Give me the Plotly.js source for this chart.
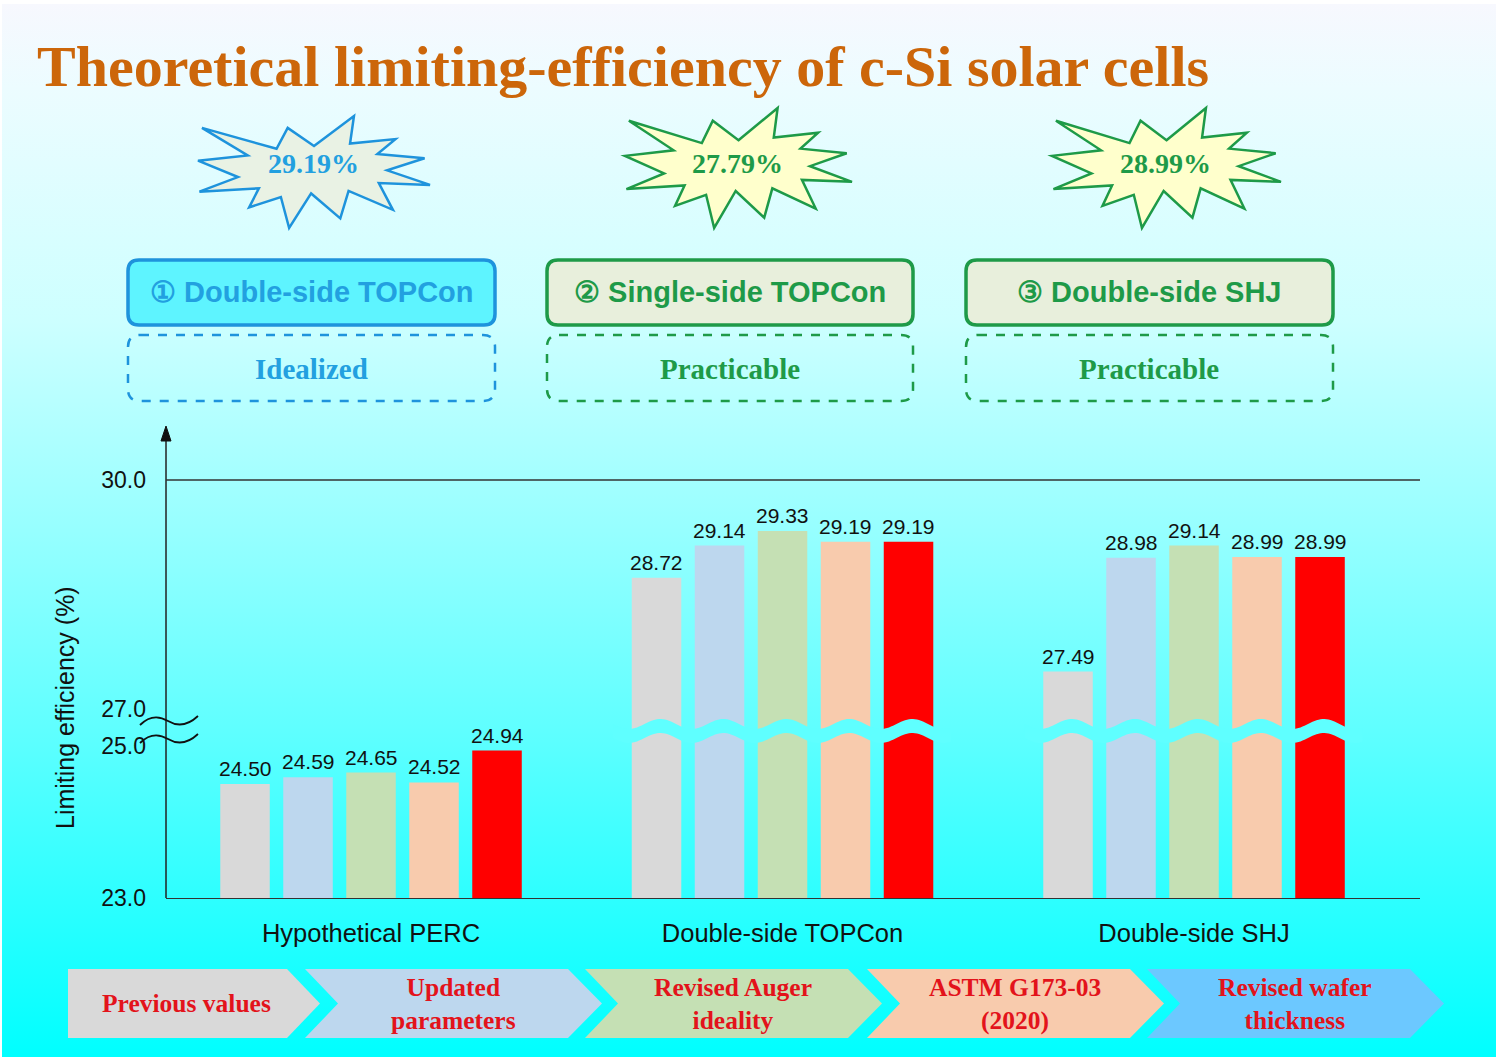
<!DOCTYPE html>
<html><head><meta charset="utf-8">
<script src="https://cdn.plot.ly/plotly-3.0.1.min.js"></script>
<style>
html,body{margin:0;padding:0;background:#fff;}
#bg{position:absolute;left:2px;top:4px;width:1494px;height:1053px;}
#chart{position:absolute;left:0;top:0;width:1500px;height:1061px;}
</style></head>
<body><div id="bg"></div><div id="chart"></div>
<script>
// ---------------- data ----------------
const categories = ['Hypothetical PERC', 'Double-side TOPCon', 'Double-side SHJ'];
const previousValues    = [24.50, 28.72, 27.49];
const updatedParameters = [24.59, 29.14, 28.98];
const revisedAuger      = [24.65, 29.33, 29.14];
const astmG173          = [24.52, 29.19, 28.99];
const revisedWafer      = [24.94, 29.19, 28.99];
const lowerTicks = [23, 25];
const upperTicks = [27, 30];
const stepLabels = ['Previous values', 'Updated<br>parameters', 'Revised Auger<br>ideality', 'ASTM G173-03<br>(2020)', 'Revised wafer<br>thickness'];
const headlineValues = ['29.19%', '27.79%', '28.99%'];
const cellLabels = ['① Double-side TOPCon', '② Single-side TOPCon', '③ Double-side SHJ'];
const cellKinds = ['Idealized', 'Practicable', 'Practicable'];
const titleText = 'Theoretical limiting-efficiency of c-Si solar cells';
const yTitle = 'Limiting efficiency (%)';

// ---------------- styling ----------------
const series = [previousValues, updatedParameters, revisedAuger, astmG173, revisedWafer];
const barColors = ['#D9D9D9', '#BDD7EE', '#C5E0B4', '#F8CBAD', '#FF0000'];
const chevronColors = ['#D9D9D9', '#BDD7EE', '#C5E0B4', '#F8CBAD', '#6CC8FF'];
const W = 1500, H = 1061;
const X = px => +(px / W).toFixed(5);
const Y = py => +(1 - py / H).toFixed(5);
const SANS = 'Liberation Sans, Arial, sans-serif';
const SERIF = 'Liberation Serif, Times New Roman, serif';

// background gradient
const stops = [[0, [247,248,254]], [0.08, [236,252,255]], [0.3, [205,255,255]], [0.5, [150,255,255]], [0.7, [92,255,255]], [0.85, [45,255,255]], [1, [0,255,255]]];
const rgb = c => `rgb(${c.map(v => Math.round(v)).join(',')})`;
document.getElementById('bg').style.background =
  'linear-gradient(to bottom,' + stops.map(s => rgb(s[1]) + ' ' + (s[0]*100) + '%').join(',') + ')';
function bgAt(py) {
  const f = (py - 4) / 1053;
  for (let i = 1; i < stops.length; i++) {
    if (f <= stops[i][0]) {
      const a = stops[i-1], b = stops[i], t = (f - a[0]) / (b[0] - a[0]);
      return rgb(a[1].map((v, k) => v + (b[1][k] - v) * t));
    }
  }
  return rgb(stops[stops.length-1][1]);
}

// axis geometry
const xr = [-0.4982, 2.5492];
const axL = 166, axR = 1420;
const lowScale = 76, upScale = 76.3, y30px = 480;
const lowTopPx = 733, upBotPx = 731, upTopPx = 432;
const bargap = 0.2345;
const pitch = (1 - bargap) / 5;

// ---------------- traces ----------------
const traces = [];
series.forEach((vals, i) => {
  ['y', 'y2'].forEach(ya => {
    traces.push({
      type: 'bar', x: [0, 1, 2], y: vals, yaxis: ya, xaxis: 'x',
      marker: {color: barColors[i], line: {width: 0}},
      hoverinfo: 'skip', showlegend: false
    });
  });
});

// ---------------- helpers ----------------
function poly(pts) { return 'M' + pts.map(p => X(p[0]) + ',' + Y(p[1])).join(' L') + ' Z'; }
function rrect(x0, y0, x1, y1, r) {
  return `M${X(x0+r)},${Y(y0)} L${X(x1-r)},${Y(y0)} Q${X(x1)},${Y(y0)} ${X(x1)},${Y(y0+r)} ` +
         `L${X(x1)},${Y(y1-r)} Q${X(x1)},${Y(y1)} ${X(x1-r)},${Y(y1)} L${X(x0+r)},${Y(y1)} ` +
         `Q${X(x0)},${Y(y1)} ${X(x0)},${Y(y1-r)} L${X(x0)},${Y(y0+r)} Q${X(x0)},${Y(y0)} ${X(x0+r)},${Y(y0)} Z`;
}
const seal = [[10800,5800],[14522,0],[14155,5325],[18380,4457],[16702,7315],[21097,8137],[17607,10475],[21600,13290],[16837,12942],[18145,18095],[14020,14457],[13247,19737],[10532,14935],[8485,21600],[7715,15627],[4762,17617],[5667,13937],[135,14587],[3722,11775],[0,8615],[4627,7617],[370,2295],[7312,6320],[8352,2295]];
function star(x0, y0, x1, y1) {
  return poly(seal.map(p => [x0 + p[0]/21600*(x1-x0), y0 + p[1]/21600*(y1-y0)]));
}
function note(px, py, text, font, extra) {
  return Object.assign({xref:'paper', yref:'paper', x: X(px), y: Y(py), xanchor:'center', yanchor:'middle',
    showarrow:false, text: text, font: font}, extra || {});
}

const shapes = [];
const annotations = [];

// title
annotations.push(note(35, 66, '<b>' + titleText + '</b>', {family: SERIF, size: 58, color:'#CC660A'}, {xanchor:'left'}));

// stars + boxes
const starBoxes = [[198,116,430,228],[625,108,852,228],[1052,108,1281,228]];
const boxX = [[128,495],[547,913],[966,1333]];
const strokeCols = ['#1E93DC', '#1E9A48', '#1E9A48'];
const textCols = ['#22A0E0', '#1E9A48', '#1E9A48'];
const starFills = ['#E9F2E4', '#FFFFCC', '#FFFFCC'];
const boxFills = ['#5EF4FF', '#E8EFDC', '#E8EFDC'];
for (let k = 0; k < 3; k++) {
  const sb = starBoxes[k];
  shapes.push({type:'path', xref:'paper', yref:'paper', path: star(...sb), fillcolor: starFills[k], line:{color: strokeCols[k], width: 2.5}});
  annotations.push(note((sb[0]+sb[2])/2 - 1, 164, '<b>' + headlineValues[k] + '</b>', {family: SERIF, size: 28, color: textCols[k]}));
  const [bx0, bx1] = boxX[k];
  shapes.push({type:'path', xref:'paper', yref:'paper', path: rrect(bx0, 260, bx1, 325, 11), fillcolor: boxFills[k], line:{color: strokeCols[k], width: 3.5}});
  annotations.push(note((bx0+bx1)/2, 292, '<b>' + cellLabels[k] + '</b>', {family: SANS, size: 29, color: textCols[k]}));
  shapes.push({type:'path', xref:'paper', yref:'paper', path: rrect(bx0, 335, bx1, 401, 12), fillcolor:'rgba(0,0,0,0)', line:{color: strokeCols[k], width: 2.5, dash:'dash'}});
  annotations.push(note((bx0+bx1)/2, 369, '<b>' + cellKinds[k] + '</b>', {family: SERIF, size: 29, color: textCols[k]}));
}

// y axis line + arrow
shapes.push({type:'line', xref:'paper', yref:'paper', x0: X(axL), x1: X(axL), y0: Y(898), y1: Y(438), line:{color:'#222', width:1.5}});
shapes.push({type:'path', xref:'paper', yref:'paper', path: poly([[axL,426],[axL-5,441],[axL+5,441]]), fillcolor:'#111', line:{color:'#111', width:1}});
// 30.0 line
shapes.push({type:'line', xref:'x domain', yref:'y2', x0: 0, x1: 1, y0: upperTicks[1], y1: upperTicks[1], line:{color:'#333', width:1.5}});
// axis break tildes
[721, 739].forEach(yc => {
  shapes.push({type:'path', xref:'paper', yref:'paper',
    path: `M${X(140)},${Y(yc+4)} Q${X(153)},${Y(yc-9)} ${X(168)},${Y(yc)} T${X(198)},${Y(yc-5)}`,
    line:{color:'#111', width:1.8}});
});

// wavy break band over tall bars
const pxPerUnit = (axR - axL) / (xr[1] - xr[0]);
const xPx = v => axL + (v - xr[0]) * pxPerUnit;
const bandCol = bgAt(731);
[1, 2].forEach(g => {
  const cx = xPx(g), half = 2.5 * pitch * pxPerUnit + 12;
  const xs = cx - half, xe = cx + half;
  const top = [], bot = [];
  for (let x = xs; x <= xe + 0.01; x += 2) {
    const yt = 724 + 5 * Math.sin(2 * Math.PI * (x - xs) / 63);
    top.push([x, yt]); bot.push([x, yt + 14]);
  }
  shapes.push({type:'path', xref:'paper', yref:'paper', path: poly(top.concat(bot.reverse())), fillcolor: bandCol, line:{width:0}, layer:'above'});
});

// value labels
series.forEach((vals, i) => {
  vals.forEach((v, g) => {
    annotations.push({xref:'x', yref: g === 0 ? 'y' : 'y2', x: g + (i - 2) * pitch, y: v,
      xanchor:'center', yanchor:'bottom', yshift: 2, showarrow:false,
      text: v.toFixed(2), font:{family: SANS, size: 21, color:'#111'}});
  });
});

// y title
annotations.push(note(65, 707, yTitle, {family: SANS, size: 25, color:'#111'}, {textangle: -90}));

// bottom chevrons
const chevStarts = [68, 305, 585, 867, 1147];
chevStarts.forEach((x0, k) => {
  const top = 969, bot = 1038, mid = 1003.5;
  const right = k === 0 ? 287 : x0 + 263;
  const pts = k === 0
    ? [[x0,top],[right,top],[right+33,mid],[right,bot],[x0,bot]]
    : [[x0,top],[right,top],[right+34,mid],[right,bot],[x0,bot],[x0+33,mid]];
  shapes.push({type:'path', xref:'paper', yref:'paper', path: poly(pts), fillcolor: chevronColors[k], line:{width:0}, layer:'below'});
  const cx = k === 0 ? 186 : (x0 + 33 + right) / 2;
  annotations.push(note(cx, mid, '<b>' + stepLabels[k] + '</b>', {family: SERIF, size: 25.5, color:'#E3131B'}));
});

const tickFont = {family: SANS, size: 23, color:'#111'};
const layout = {
  width: W, height: H, margin:{l:0, r:0, t:0, b:0},
  paper_bgcolor:'rgba(0,0,0,0)', plot_bgcolor:'rgba(0,0,0,0)',
  showlegend:false, barmode:'group', bargap: bargap, bargroupgap: 0.214,
  xaxis:{domain:[X(axL), X(axR)], range: xr, tickmode:'array', tickvals:[0,1,2], ticktext: categories,
    showline:true, linecolor:'#333', linewidth:1.5, ticks:'', showgrid:false, zeroline:false,
    tickfont:{family: SANS, size: 25.5, color:'#111'}, ticklabelstandoff: 12, anchor:'y', fixedrange:true},
  yaxis:{domain:[Y(898), Y(lowTopPx)], range:[lowerTicks[0], lowerTicks[0] + (898 - lowTopPx) / lowScale],
    tickmode:'array', tickvals: lowerTicks, tickformat:'.1f', showline:false, showgrid:false, zeroline:false,
    ticks:'', ticklabelstandoff: 19, tickfont: tickFont, anchor:'x', fixedrange:true},
  yaxis2:{domain:[Y(upBotPx), Y(upTopPx)], range:[upperTicks[1] - (upBotPx - y30px) / upScale, upperTicks[1] + (y30px - upTopPx) / upScale],
    tickmode:'array', tickvals: upperTicks, tickformat:'.1f', showline:false, showgrid:false, zeroline:false,
    ticks:'', ticklabelstandoff: 19, tickfont: tickFont, anchor:'x', fixedrange:true},
  shapes: shapes, annotations: annotations
};
Plotly.newPlot('chart', traces, layout, {displayModeBar:false, staticPlot:true});
</script>
</body></html>
